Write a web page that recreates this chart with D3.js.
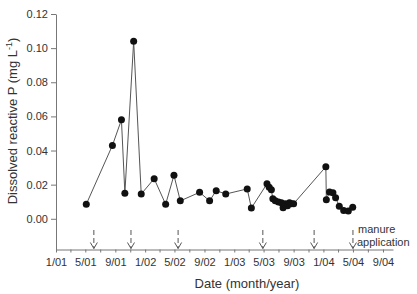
<!DOCTYPE html>
<html>
<head>
<meta charset="utf-8">
<script src="https://cdn.jsdelivr.net/npm/d3@7"></script>
<style>
  body { margin: 0; background: #fff; }
  svg { display: block; font-family: "Liberation Sans", Arial, sans-serif; }
  .axis path, .axis line { stroke: #777; }
  .axis text { fill: #333; font-size: 11px; }
</style>
</head>
<body>
<svg id="chart" width="417" height="294"></svg>
<script>
// sampling dates and dissolved reactive P (mg/L)
var sampleDates = [
    "2001-05-05", "2001-08-20", "2001-09-26", "2001-10-10", "2001-11-15", "2001-12-16",
    "2002-02-07", "2002-03-26", "2002-04-29", "2002-05-25", "2002-08-12", "2002-09-22",
    "2002-10-19", "2002-11-27", "2003-02-23", "2003-03-12",
    "2003-05-15", "2003-05-24", "2003-06-02", "2003-06-08", "2003-06-18", "2003-07-01",
    "2003-07-13", "2003-07-20", "2003-07-29", "2003-08-07", "2003-08-15", "2003-08-23",
    "2003-09-01",
    "2004-01-11", "2004-01-13", "2004-01-26", "2004-02-09", "2004-02-20", "2004-03-06",
    "2004-03-24", "2004-04-12", "2004-04-30"
];
var drpValues = [
    0.0085, 0.043, 0.058, 0.015, 0.104, 0.0145,
    0.0235, 0.0085, 0.0255, 0.0105, 0.0155, 0.0105,
    0.0165, 0.0145, 0.0175, 0.0063,
    0.0205, 0.0185, 0.017, 0.0117, 0.0105, 0.0099,
    0.0094, 0.0064, 0.0088, 0.0076, 0.0094, 0.0088,
    0.0088,
    0.0305, 0.0112, 0.0157, 0.0153, 0.0123, 0.0074,
    0.0049, 0.0045, 0.0068
];
// manure application dates (arrows)
var manureDates = ["2001-06-05", "2001-11-04", "2002-05-16", "2003-04-28", "2003-11-24", "2004-05-01"];
var yTicks = [0, 0.02, 0.04, 0.06, 0.08, 0.10, 0.12];

var parse = d3.timeParse("%Y-%m-%d");
var data = sampleDates.map(function (d, i) {
    return {date: parse(d), value: drpValues[i]};
});

var svg = d3.select("#chart");

var x = d3.scaleTime()
    .domain([new Date(2001, 0, 1), new Date(2004, 9, 12)])
    .range([56, 393]);

var y = d3.scaleLinear()
    .domain([-0.018, 0.12])
    .range([249.5, 14]);

// x axis: minor ticks every 2 months, labels every 4
svg.append("g")
    .attr("class", "axis axis--x")
    .attr("transform", "translate(0," + y(-0.018) + ")")
    .call(d3.axisBottom(x)
        .ticks(d3.timeMonth.every(2))
        .tickSize(3)
        .tickSizeOuter(0)
        .tickPadding(6)
        .tickFormat(function (d) {
            return d.getMonth() % 4 === 0 ? (d.getMonth() + 1) + "/" + d3.timeFormat("%y")(d) : "";
        }));

svg.append("g")
    .attr("class", "axis axis--y")
    .attr("transform", "translate(" + x.range()[0] + ",0)")
    .call(d3.axisLeft(y)
        .tickValues(yTicks)
        .tickSize(5)
        .tickSizeOuter(0)
        .tickPadding(3)
        .tickFormat(d3.format(".2f")));

// data line
var line = d3.line()
    .x(function (d) { return x(d.date); })
    .y(function (d) { return y(d.value); });

svg.append("path")
    .datum(data)
    .attr("fill", "none")
    .attr("stroke", "#555")
    .attr("stroke-width", 1)
    .attr("d", line);

svg.selectAll("circle.pt")
    .data(data)
    .enter()
    .append("circle")
    .attr("class", "pt")
    .attr("cx", function (d) { return x(d.date); })
    .attr("cy", function (d) { return y(d.value); })
    .attr("r", 3.5)
    .attr("fill", "#111");

// manure arrows
var arrows = svg.selectAll("g.arrow")
    .data(manureDates.map(parse))
    .enter()
    .append("g")
    .attr("class", "arrow")
    .attr("transform", function (d) { return "translate(" + x(d) + ",0)"; });

arrows.append("line")
    .attr("x1", 0).attr("x2", 0)
    .attr("y1", 230).attr("y2", y(-0.018) - 1)
    .attr("stroke", "#555")
    .attr("stroke-dasharray", "5,3");

arrows.append("path")
    .attr("d", "M-3.5," + (y(-0.018) - 7) + "L0," + (y(-0.018) - 1) + "L3.5," + (y(-0.018) - 7))
    .attr("fill", "none")
    .attr("stroke", "#555");

svg.append("text")
    .attr("x", 358).attr("y", 233)
    .attr("font-size", 11).attr("fill", "#333")
    .text("manure");
svg.append("text")
    .attr("x", 357).attr("y", 246)
    .attr("font-size", 11).attr("fill", "#333")
    .text("application");

// axis titles
svg.append("text")
    .attr("x", 247).attr("y", 288)
    .attr("text-anchor", "middle")
    .attr("font-size", 13).attr("fill", "#333")
    .text("Date (month/year)");

var yTitle = svg.append("text")
    .attr("transform", "translate(17,121) rotate(-90)")
    .attr("text-anchor", "middle")
    .attr("font-size", 13).attr("fill", "#333");
yTitle.append("tspan").text("Dissolved reactive P (mg L");
yTitle.append("tspan").attr("font-size", 9).attr("dy", -5).text("-1");
yTitle.append("tspan").attr("dy", 5).text(")");
</script>
</body>
</html>
